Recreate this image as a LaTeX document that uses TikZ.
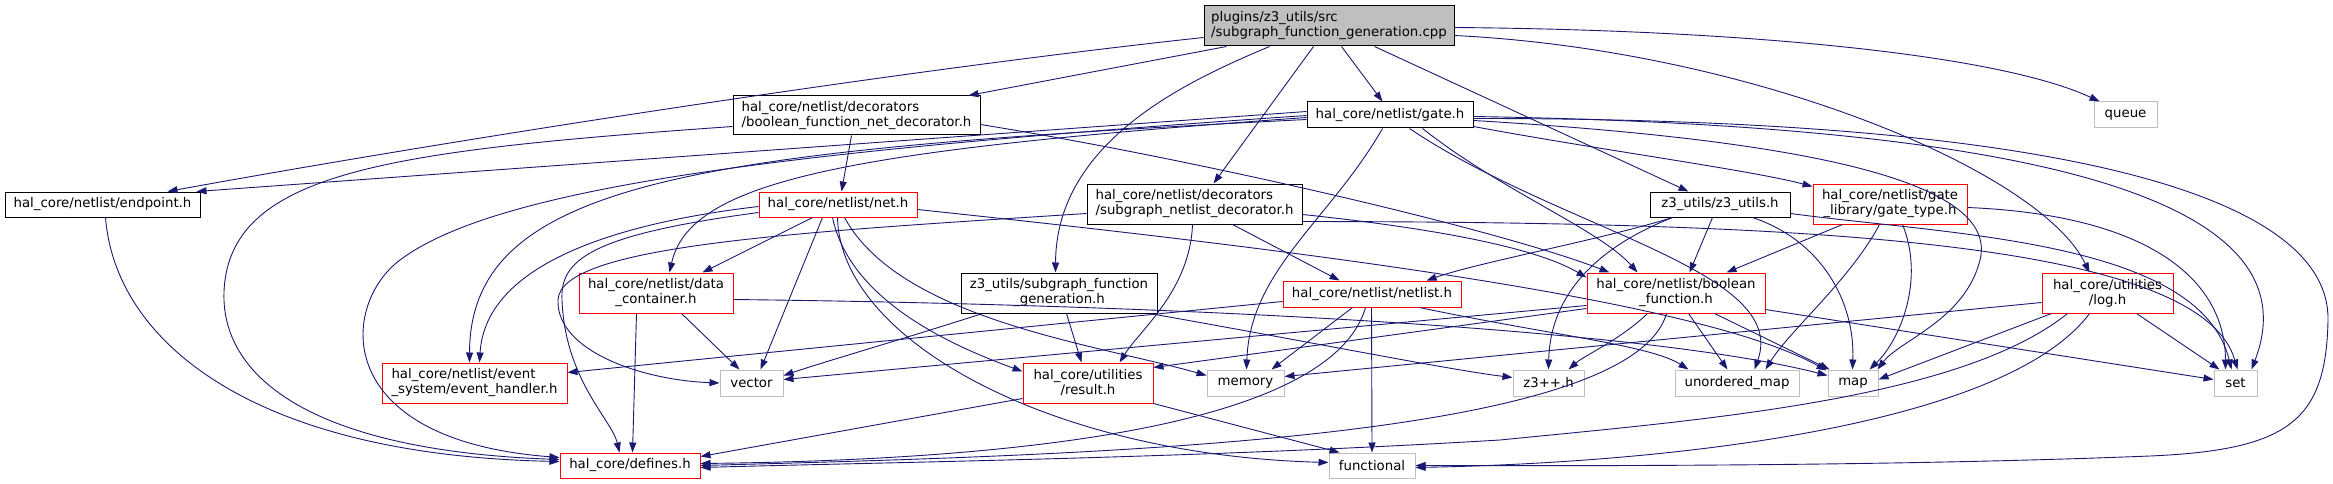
\documentclass[tikz,border=0pt]{standalone}
\usepackage{fontspec}
\setmainfont{DejaVu Sans}
\usetikzlibrary{arrows.meta,calc}
\definecolor{edgecol}{HTML}{191970}
\definecolor{redb}{HTML}{FF0000}
\definecolor{grayb}{HTML}{BFBFBF}
\definecolor{rootfill}{HTML}{BFBFBF}
\begin{document}
\begin{tikzpicture}[x=1pt,y=-1pt,
  lnk/.style={draw=edgecol, line width=0.9pt, -{Triangle[length=10pt,width=7pt]}},
  nbox/.style={draw, line width=1pt, inner sep=0pt, fill=white, font=\fontsize{13.3}{15}\selectfont, align=center},
  bbox/.style={nbox, draw=black},
  rbox/.style={nbox, draw=redb},
  gbox/.style={nbox, draw=grayb}]
\useasboundingbox (0,0) rectangle (2333,484);
% nodes
\node[bbox, fill=rootfill, align=left, minimum width=250pt, minimum height=40pt] (root) at (1329,26) {plugins/z3\_utils/src\\/subgraph\_function\_generation.cpp};
\node[bbox, align=left, minimum width=247pt, minimum height=39pt] (deco) at (856.5,115.5) {hal\_core/netlist/decorators\\/boolean\_function\_net\_decorator.h};
\node[bbox, minimum width=166pt, minimum height=26pt] (gate) at (1390,115) {hal\_core/netlist/gate.h};
\node[gbox, minimum width=63pt, minimum height=26pt] (queue) at (2125.5,115) {queue};
\node[bbox, minimum width=195pt, minimum height=25pt] (endpoint) at (102.5,204.5) {hal\_core/netlist/endpoint.h};
\node[rbox, minimum width=158pt, minimum height=25pt] (net) at (838,204.5) {hal\_core/netlist/net.h};
\node[bbox, align=left, minimum width=215pt, minimum height=40pt] (sgnd) at (1194.5,204) {hal\_core/netlist/decorators\\/subgraph\_netlist\_decorator.h};
\node[bbox, minimum width=140pt, minimum height=25pt] (z3u) at (1720,204.5) {z3\_utils/z3\_utils.h};
\node[rbox, minimum width=154pt, minimum height=40pt] (gtype) at (1890,204) {hal\_core/netlist/gate\\\_library/gate\_type.h};
\node[rbox, minimum width=154pt, minimum height=40pt] (dcont) at (656,293) {hal\_core/netlist/data\\\_container.h};
\node[bbox, minimum width=196pt, minimum height=40pt] (sfg) at (1059,293) {z3\_utils/subgraph\_function\\\_generation.h};
\node[rbox, minimum width=178pt, minimum height=26pt] (netlist) at (1372,294) {hal\_core/netlist/netlist.h};
\node[rbox, minimum width=178pt, minimum height=40pt] (bf) at (1676,293) {hal\_core/netlist/boolean\\\_function.h};
\node[rbox, minimum width=131pt, minimum height=40pt] (log) at (2107.5,293) {hal\_core/utilities\\/log.h};
\node[rbox, align=left, minimum width=185pt, minimum height=40pt] (evh) at (474.5,383) {hal\_core/netlist/event\\\_system/event\_handler.h};
\node[gbox, minimum width=63pt, minimum height=26pt] (vector) at (751.5,383) {vector};
\node[rbox, minimum width=130pt, minimum height=40pt] (result) at (1088,383) {hal\_core/utilities\\/result.h};
\node[gbox, minimum width=77pt, minimum height=26pt] (memory) at (1245.5,383) {memory};
\node[gbox, minimum width=71pt, minimum height=26pt] (z3pp) at (1548.5,383) {z3++.h};
\node[gbox, minimum width=124pt, minimum height=26pt] (umap) at (1737,383) {unordered\_map};
\node[gbox, minimum width=50pt, minimum height=26pt] (map) at (1853,383) {map};
\node[gbox, minimum width=43pt, minimum height=26pt] (set) at (2235.5,383) {set};
\node[rbox, minimum width=140pt, minimum height=25pt] (defines) at (630,465.5) {hal\_core/defines.h};
\node[gbox, minimum width=86pt, minimum height=25pt] (functional) at (1372,465.5) {functional};
% root edges
\draw[lnk] ($(root.north west)+(0,32)$) .. controls (900,70) and (450,140) .. ($(endpoint.north west)+(163,0)$);
\draw[lnk] ($(root.south west)+(23,0)$) -- ($(deco.north west)+(236,0)$);
\draw[lnk] ($(root.south west)+(66,0)$) .. controls (1190,80) and (1056,140) .. ($(sfg.north west)+(95,0)$);
\draw[lnk] ($(root.south west)+(110,0)$) -- ($(sgnd.north west)+(127,0)$);
\draw[lnk] ($(root.south west)+(138,0)$) -- ($(gate.north west)+(76,0)$);
\draw[lnk] ($(root.south west)+(171,0)$) -- ($(z3u.north west)+(39,0)$);
\draw[lnk] ($(root.north east)+(0,22)$) .. controls (1750,30) and (2000,55) .. ($(queue.north west)+(6,0)$);
\draw[lnk] ($(root.north east)+(0,30)$) .. controls (1750,50) and (2040,170) .. ($(log.north west)+(48,0)$);
% deco edges
\draw[lnk] ($(deco.south west)+(119,0)$) -- ($(net.north west)+(83,0)$);
\draw[lnk] ($(deco.north east)+(0,29)$) .. controls (1200,160) and (1500,230) .. ($(bf.north west)+(23,0)$);
\draw[lnk] ($(deco.north west)+(0,31)$) .. controls (400,150) and (240,170) .. (225,280) .. controls (213,370) and (300,450) .. ($(defines.north west)+(0,7)$);
% endpoint
\draw[lnk] ($(endpoint.south west)+(101,0)$) .. controls (115,340) and (250,455) .. ($(defines.north west)+(0,9)$);
% gate edges
\draw[lnk] ($(gate.north west)+(0,10)$) -- ($(endpoint.north west)+(192,0)$);
\draw[lnk] ($(gate.north west)+(0,14)$) .. controls (800,150) and (500,185) .. (400,260) .. controls (340,305) and (330,440) .. ($(defines.north west)+(0,5)$);
\draw[lnk] ($(gate.north west)+(0,16)$) .. controls (850,150) and (690,180) .. ($(dcont.north west)+(91,0)$);
\draw[lnk] ($(gate.north west)+(0,18)$) .. controls (700,150) and (470,180) .. ($(evh.north west)+(88,0)$);
\draw[lnk] ($(gate.south west)+(76,0)$) .. controls (1330,220) and (1250,270) .. ($(memory.north west)+(40,0)$);
\draw[lnk] ($(gate.south west)+(116,0)$) .. controls (1500,190) and (1600,230) .. ($(bf.north west)+(51,0)$);
\draw[lnk] ($(gate.south west)+(103,0)$) .. controls (1560,230) and (1790,270) .. ($(umap.north west)+(80,0)$);
\draw[lnk] ($(gate.north east)+(0,19)$) .. controls (1800,140) and (2000,180) .. (1980,260) .. controls (1965,320) and (1900,340) .. ($(map.north east)+(-1,0)$);
\draw[lnk] ($(gate.north east)+(0,15)$) .. controls (2000,125) and (2320,190) .. ($(set.north west)+(38,0)$);
\draw[lnk] ($(gate.north east)+(0,17)$) .. controls (2080,118) and (2330,200) .. (2328,320) .. controls (2326,420) and (2290,450) .. (2150,456) .. controls (1900,466) and (1600,466) .. ($(functional.north east)+(0,13)$);
\draw[lnk] ($(gate.north east)+(0,25)$) .. controls (1600,150) and (1750,170) .. ($(gtype.north west)+(0,3)$);
% net edges
\draw[lnk] ($(net.south west)+(54,0)$) -- ($(dcont.north west)+(124,0)$);
\draw[lnk] ($(net.north west)+(0,15)$) .. controls (600,225) and (485,270) .. ($(evh.north west)+(98,0)$);
\draw[lnk] ($(net.north west)+(0,21)$) .. controls (590,235) and (560,260) .. (562,300) .. controls (565,380) and (612,420) .. ($(defines.north west)+(60,0)$);
\draw[lnk] ($(net.south west)+(64,0)$) -- ($(vector.north west)+(41,0)$);
\draw[lnk] ($(net.south west)+(74,0)$) .. controls (850,300) and (950,345) .. ($(result.north west)+(0,9)$);
\draw[lnk] ($(net.south west)+(86,0)$) .. controls (900,320) and (1100,345) .. ($(memory.north west)+(0,6)$);
\draw[lnk] ($(net.south west)+(79,0)$) .. controls (840,340) and (1050,455) .. ($(functional.north west)+(0,10)$);
\draw[lnk] ($(net.north east)+(0,18)$) .. controls (1300,250) and (1700,300) .. ($(map.north west)+(-1,1)$);
% data container
\draw[lnk] ($(dcont.south west)+(58,0)$) -- ($(defines.north west)+(73,0)$);
\draw[lnk] ($(dcont.south west)+(103,0)$) -- ($(vector.north west)+(20,0)$);
\draw[lnk] ($(dcont.north east)+(0,27)$) .. controls (1200,305) and (1650,330) .. ($(map.north west)+(0,6)$);
% subgraph netlist decorator
\draw[lnk] ($(sgnd.north west)+(0,30)$) .. controls (800,232) and (560,245) .. (558,300) .. controls (556,350) and (640,380) .. (vector.west);
\draw[lnk] ($(sgnd.south west)+(106,0)$) .. controls (1190,290) and (1140,330) .. ($(result.north west)+(97,0)$);
\draw[lnk] ($(sgnd.south west)+(146,0)$) -- ($(netlist.north west)+(57,0)$);
\draw[lnk] ($(sgnd.north east)+(0,31)$) .. controls (1450,230) and (1540,250) .. ($(bf.north west)+(0,5)$);
\draw[lnk] ($(sgnd.north east)+(0,38)$) .. controls (1800,222) and (2200,240) .. ($(set.north west)+(24,0)$);
% z3 utils
\draw[lnk] ($(z3u.south west)+(23,0)$) .. controls (1600,240) and (1480,262) .. ($(netlist.north west)+(144,0)$);
\draw[lnk] ($(z3u.south west)+(23,0)$) .. controls (1590,250) and (1550,300) .. ($(z3pp.north west)+(36,0)$);
\draw[lnk] ($(z3u.south west)+(63,0)$) -- ($(bf.north west)+(103,0)$);
\draw[lnk] ($(z3u.south west)+(103,0)$) .. controls (1820,240) and (1855,300) .. ($(map.north west)+(25,0)$);
\draw[lnk] ($(z3u.north east)+(0,22)$) .. controls (1950,235) and (2200,240) .. ($(set.north west)+(18,0)$);
% gate type
\draw[lnk] ($(gtype.south west)+(30,0)$) -- ($(bf.north west)+(140,0)$);
\draw[lnk] ($(gtype.south west)+(67,0)$) .. controls (1850,280) and (1790,330) .. ($(umap.north west)+(91,0)$);
\draw[lnk] ($(gtype.south west)+(90,0)$) .. controls (1925,280) and (1900,340) .. ($(map.north west)+(42,0)$);
\draw[lnk] ($(gtype.north east)+(0,24)$) .. controls (2150,215) and (2225,280) .. ($(set.north west)+(12,0)$);
% subgraph function generation
\draw[lnk] ($(sfg.south west)+(22,0)$) .. controls (900,340) and (830,360) .. ($(vector.north east)+(0,6)$);
\draw[lnk] ($(sfg.south west)+(106,0)$) -- ($(result.north west)+(59,0)$);
\draw[lnk] ($(sfg.south west)+(189,0)$) .. controls (1300,340) and (1450,370) .. ($(z3pp.north west)+(0,8)$);
% netlist
\draw[lnk] ($(netlist.north west)+(0,21)$) -- ($(evh.north east)+(0,10)$);
\draw[lnk] ($(netlist.south west)+(70,0)$) -- ($(memory.north west)+(65,0)$);
\draw[lnk] ($(netlist.south west)+(83,0)$) .. controls (1330,430) and (1000,460) .. ($(defines.north east)+(0,11)$);
\draw[lnk] ($(netlist.south west)+(89,0)$) -- (functional.north);
\draw[lnk] ($(netlist.south west)+(137,0)$) .. controls (1550,335) and (1650,345) .. ($(umap.north west)+(14,0)$);
% boolean function
\draw[lnk] ($(bf.north west)+(0,33)$) -- ($(vector.north east)+(0,10)$);
\draw[lnk] ($(bf.north west)+(0,36)$) -- ($(result.north east)+(0,5)$);
\draw[lnk] ($(bf.south west)+(80,0)$) .. controls (1630,440) and (1100,455) .. ($(defines.north east)+(0,13)$);
\draw[lnk] ($(bf.south west)+(61,0)$) .. controls (1620,340) and (1585,355) .. ($(z3pp.north west)+(56,0)$);
\draw[lnk] ($(bf.south west)+(102,0)$) -- ($(umap.north west)+(53,0)$);
\draw[lnk] ($(bf.south west)+(128,0)$) -- ($(map.north west)+(2,0)$);
\draw[lnk] ($(bf.north east)+(0,37)$) -- ($(set.north west)+(0,10)$);
% log
\draw[lnk] ($(log.north west)+(0,30)$) -- ($(memory.north east)+(0,7)$);
\draw[lnk] ($(log.south west)+(10,0)$) -- ($(map.north east)+(0,10)$);
\draw[lnk] ($(log.south west)+(26,0)$) .. controls (1960,400) and (1700,420) .. (1500,440) .. controls (1200,458) and (900,462) .. ($(defines.north east)+(0,15)$);
\draw[lnk] ($(log.south west)+(48,0)$) .. controls (2010,420) and (1700,462) .. ($(functional.north east)+(0,15)$);
\draw[lnk] ($(log.south west)+(95,0)$) -- ($(set.north west)+(6,0)$);
% result
\draw[lnk] ($(result.south west)+(0,-5)$) -- ($(defines.north east)+(0,4)$);
\draw[lnk] (result.south east) -- ($(functional.north west)+(11,0)$);
\end{tikzpicture}
\end{document}
